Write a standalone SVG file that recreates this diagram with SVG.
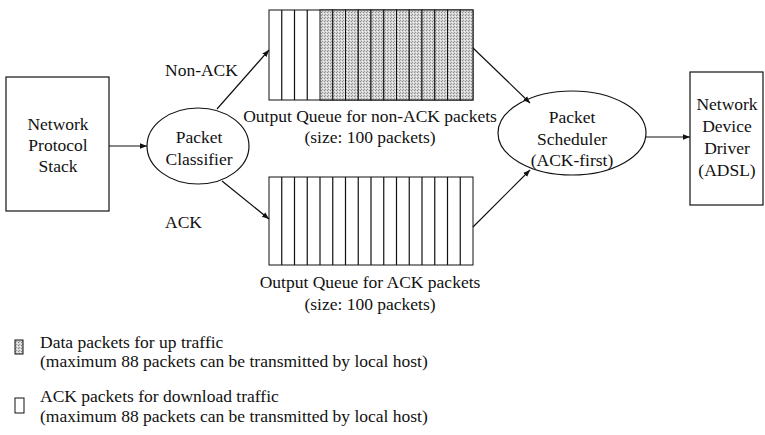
<svg xmlns="http://www.w3.org/2000/svg" width="765" height="435" viewBox="0 0 765 435">
<style>
text{font-family:"Liberation Serif","Times New Roman",serif;font-size:17.5px;fill:#111}
.c{text-anchor:middle}
.box{fill:#fff;stroke:#111;stroke-width:1.2}
.ln{stroke:#111;stroke-width:1.2;fill:none}
.cell{fill:#fff;stroke:#111;stroke-width:1}
.sh{fill:url(#dots);stroke:#111;stroke-width:1}
</style>
<defs>
<pattern id="dots" width="3" height="3" patternUnits="userSpaceOnUse">
<rect width="3" height="3" fill="#d4d4d4"/>
<rect x="0" y="0" width="1" height="1" fill="#888"/>
<rect x="2" y="1" width="1" height="1" fill="#f4f4f4"/>
<rect x="1" y="2" width="1" height="1" fill="#999"/>
</pattern>
<marker id="ah" viewBox="0 0 10 10" refX="10" refY="5" markerWidth="7" markerHeight="7" orient="auto" markerUnits="userSpaceOnUse">
<path d="M0,1 L10,5 L0,9 Z" fill="#111"/>
</marker>
</defs>

<g id="stack">
<rect class="box" x="6" y="77" width="103" height="134"/>
<text class="c" x="58" y="130">Network</text>
<text class="c" x="58" y="151">Protocol</text>
<text class="c" x="58" y="172">Stack</text>
</g>

<g id="classifier">
<ellipse class="box" cx="198" cy="146" rx="51" ry="38"/>
<text class="c" x="199" y="143">Packet</text>
<text class="c" x="199" y="165">Classifier</text>
</g>

<g id="queue-nonack">
<rect class="cell" x="269" y="10" width="204" height="90"/>
<path class="ln" stroke-width="1" d="M281.75,10V100M294.5,10V100M307.25,10V100"/>
<rect class="sh" x="320" y="10" width="12.75" height="90"/>
<rect class="sh" x="332.75" y="10" width="12.75" height="90"/>
<rect class="sh" x="345.5" y="10" width="12.75" height="90"/>
<rect class="sh" x="358.25" y="10" width="12.75" height="90"/>
<rect class="sh" x="371" y="10" width="12.75" height="90"/>
<rect class="sh" x="383.75" y="10" width="12.75" height="90"/>
<rect class="sh" x="396.5" y="10" width="12.75" height="90"/>
<rect class="sh" x="409.25" y="10" width="12.75" height="90"/>
<rect class="sh" x="422" y="10" width="12.75" height="90"/>
<rect class="sh" x="434.75" y="10" width="12.75" height="90"/>
<rect class="sh" x="447.5" y="10" width="12.75" height="90"/>
<rect class="sh" x="460.25" y="10" width="12.75" height="90"/>
<text class="c" x="370" y="122">Output Queue for non-ACK packets</text>
<text class="c" x="370" y="143">(size: 100 packets)</text>
</g>

<g id="queue-ack">
<rect class="cell" x="269" y="177" width="204" height="88"/>
<path class="ln" stroke-width="1" d="M281.75,177V265M294.5,177V265M307.25,177V265M320,177V265M332.75,177V265M345.5,177V265M358.25,177V265M371,177V265M383.75,177V265M396.5,177V265M409.25,177V265M422,177V265M434.75,177V265M447.5,177V265M460.25,177V265"/>
<text class="c" x="370" y="288">Output Queue for ACK packets</text>
<text class="c" x="370" y="310">(size: 100 packets)</text>
</g>

<g id="scheduler">
<ellipse class="box" cx="572" cy="133" rx="74" ry="42"/>
<text class="c" x="572" y="123">Packet</text>
<text class="c" x="572" y="145">Scheduler</text>
<text class="c" x="572" y="166">(ACK-first)</text>
</g>

<g id="driver">
<rect class="box" x="690" y="72" width="73" height="133"/>
<text class="c" x="727" y="110">Network</text>
<text class="c" x="727" y="132">Device</text>
<text class="c" x="727" y="154">Driver</text>
<text class="c" x="727" y="176">(ADSL)</text>
</g>

<g id="connectors">
<line class="ln" x1="109" y1="146" x2="147" y2="146" marker-end="url(#ah)"/>
<line class="ln" x1="217" y1="109" x2="269" y2="50" marker-end="url(#ah)"/>
<line class="ln" x1="222" y1="181" x2="269" y2="219" marker-end="url(#ah)"/>
<line class="ln" x1="473" y1="48" x2="530" y2="103" marker-end="url(#ah)"/>
<line class="ln" x1="473" y1="227" x2="530" y2="170" marker-end="url(#ah)"/>
<line class="ln" x1="646" y1="137" x2="690" y2="137" marker-end="url(#ah)"/>
<text x="165" y="76">Non-ACK</text>
<text x="165" y="228">ACK</text>
</g>

<g id="legend">
<rect class="sh" x="15" y="340" width="8" height="14"/>
<text x="40" y="348">Data packets for up traffic</text>
<text x="40" y="367">(maximum 88 packets can be transmitted by local host)</text>
<rect class="cell" x="15" y="398" width="9" height="15"/>
<text x="40" y="402">ACK packets for download traffic</text>
<text x="40" y="422">(maximum 88 packets can be transmitted by local host)</text>
</g>
</svg>
